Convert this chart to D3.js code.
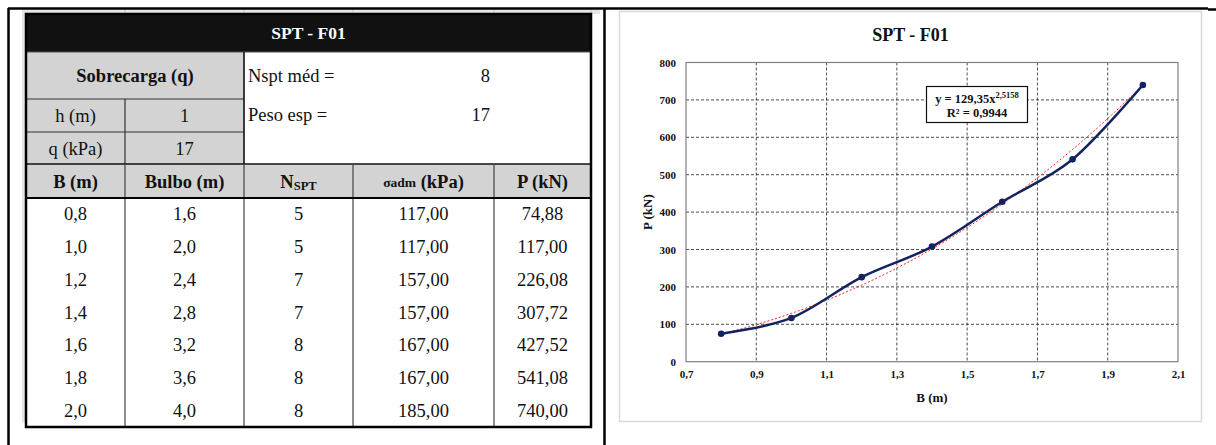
<!DOCTYPE html>
<html>
<head>
<meta charset="utf-8">
<script src="https://cdn.jsdelivr.net/npm/d3@7"></script>
<style>
  body { margin: 0; background: #fff; }
  svg { display: block; font-family: "Liberation Serif", "Times New Roman", serif; }
</style>
</head>
<body>
<script>
// table / chart values
var B = [0.8, 1.0, 1.2, 1.4, 1.6, 1.8, 2.0];
var bulbo = [1.6, 2.0, 2.4, 2.8, 3.2, 3.6, 4.0];
var nspt = [5, 5, 7, 7, 8, 8, 8];
var sigmaAdm = [117, 117, 157, 157, 167, 167, 185];
var P = [74.88, 117, 226.08, 307.72, 427.52, 541.08, 740];
var xTicks = [0.7, 0.9, 1.1, 1.3, 1.5, 1.7, 1.9, 2.1];
var yTicks = [0, 100, 200, 300, 400, 500, 600, 700, 800];
var title = "SPT - F01";
var hVal = 1, qVal = 17, nsptMed = 8, pesoEsp = 17;
var eqText = ["y = 129,35x", "2,5158"];
var r2Text = "R\u00b2 = 0,9944";

var br = d3.formatLocale({decimal: ",", thousands: ".", grouping: [3], currency: ["", ""]});
var f1 = br.format(".1f"), f2 = br.format(".2f");

var svg = d3.select("body").append("svg").attr("width", 1216).attr("height", 445);

// ---------- excel background bits ----------
var colX = [26, 125, 244, 353, 494, 591];
svg.append("rect").attr("x", 22).attr("y", 9).attr("width", 578).attr("height", 5).attr("fill", "#e6e6e6");
svg.append("rect").attr("x", 22).attr("y", 9).attr("width", 4).attr("height", 413).attr("fill", "#e6e6e6");
svg.selectAll(".xlcol").data(colX.slice(1)).enter().append("line")
  .attr("x1", d => d).attr("x2", d => d).attr("y1", 9).attr("y2", 14)
  .attr("stroke", "#c4c4c4");

// ---------- table ----------
var rowH = (427 - 198) / B.length;
var gray = "#d3d3d3";
var t = svg.append("g");

t.append("rect").attr("x", 26).attr("y", 14).attr("width", 565).attr("height", 38).attr("fill", "#111");
t.append("rect").attr("x", 26).attr("y", 52).attr("width", 218).attr("height", 112).attr("fill", gray);
t.append("rect").attr("x", 26).attr("y", 164).attr("width", 565).attr("height", 34).attr("fill", gray);

function ln(x1, y1, x2, y2, c, w) {
  t.append("line").attr("x1", x1).attr("y1", y1).attr("x2", x2).attr("y2", y2)
    .attr("stroke", c).attr("stroke-width", w);
}
ln(26, 52, 591, 52, "#555", 1);
ln(26, 99, 244, 99, "#333", 1.2);
ln(26, 132, 244, 132, "#333", 1.2);
ln(125, 99, 125, 164, "#333", 1.2);
ln(244, 52, 244, 164, "#111", 1.6);
ln(26, 164, 591, 164, "#111", 1.6);
colX.slice(1, 5).forEach(function(x) { ln(x, 164, x, 427, "#444", 1.2); });
ln(26, 198, 591, 198, "#000", 2.2);
t.append("rect").attr("x", 26).attr("y", 14).attr("width", 565).attr("height", 413)
  .attr("fill", "none").attr("stroke", "#000").attr("stroke-width", 2.5);

function txt(x, y, s, opt) {
  opt = opt || {};
  return t.append("text").attr("x", x).attr("y", y).text(s)
    .attr("text-anchor", opt.anchor || "middle")
    .attr("dominant-baseline", "central")
    .attr("font-size", opt.size || 18.5)
    .attr("font-weight", opt.bold ? "bold" : "normal")
    .attr("fill", opt.fill || "#111");
}
txt(308.5, 33, title, {bold: true, size: 17.5, fill: "#fff"});
txt(135, 76, "Sobrecarga (q)", {bold: true, size: 18.5});
txt(75.5, 116, "h (m)");
txt(184.5, 116, hVal);
txt(75.5, 149, "q (kPa)");
txt(184.5, 149, qVal);
txt(248, 76, "Nspt m\u00e9d =", {anchor: "start"});
txt(490, 76, nsptMed, {anchor: "end"});
txt(248, 115, "Peso esp =", {anchor: "start"});
txt(490, 115, pesoEsp, {anchor: "end"});

var hy = 182;
txt(75.5, hy, "B (m)", {bold: true});
txt(184.5, hy, "Bulbo (m)", {bold: true});
var nh = txt(298.5, hy, "N", {bold: true});
nh.append("tspan").attr("font-size", 12.5).attr("dy", 4).text("SPT");
var sh = txt(423.5, hy, "", {bold: true});
sh.append("tspan").attr("font-size", 13.5).text("\u03c3adm");
sh.append("tspan").text(" (kPa)");
txt(542.5, hy, "P (kN)", {bold: true});

var cols = [B.map(f1), bulbo.map(f1), nspt.map(String), sigmaAdm.map(f2), P.map(f2)];
cols.forEach(function(vals, c) {
  var cx = (colX[c] + colX[c + 1]) / 2;
  vals.forEach(function(v, i) {
    txt(cx, 198 + rowH * (i + 0.5), v);
  });
});

// ---------- frame ----------
svg.append("line").attr("x1", 8).attr("y1", 8.5).attr("x2", 1208).attr("y2", 8.5).attr("stroke", "#000").attr("stroke-width", 2.5);
svg.append("line").attr("x1", 1208).attr("y1", 9.5).attr("x2", 1216).attr("y2", 9.5).attr("stroke", "#000").attr("stroke-width", 2.5);
svg.append("line").attr("x1", 8.5).attr("y1", 8).attr("x2", 8.5).attr("y2", 445).attr("stroke", "#000").attr("stroke-width", 2.5);
svg.append("line").attr("x1", 604.5).attr("y1", 8).attr("x2", 604.5).attr("y2", 445).attr("stroke", "#000").attr("stroke-width", 2.5);

// ---------- chart ----------
svg.append("rect").attr("x", 619.5).attr("y", 11.5).attr("width", 582).attr("height", 410)
  .attr("fill", "#fff").attr("stroke", "#d9d9d9").attr("stroke-width", 1.5);

var x = d3.scaleLinear().domain([0.7, 2.1]).range([686, 1178]);
var y = d3.scaleLinear().domain([0, 800]).range([361.7, 62.5]);
var g = svg.append("g");

g.selectAll(".gx").data(xTicks.slice(1, -1)).enter().append("line")
  .attr("x1", d => x(d)).attr("x2", d => x(d)).attr("y1", y(800)).attr("y2", y(0))
  .attr("stroke", "#222").attr("stroke-width", 0.8).attr("stroke-dasharray", "3,2");
g.selectAll(".gy").data(yTicks.slice(1, -1)).enter().append("line")
  .attr("x1", x(0.7)).attr("x2", x(2.1)).attr("y1", d => y(d)).attr("y2", d => y(d))
  .attr("stroke", "#222").attr("stroke-width", 0.8).attr("stroke-dasharray", "3,2");
g.append("rect").attr("x", x(0.7)).attr("y", y(800)).attr("width", x(2.1) - x(0.7)).attr("height", y(0) - y(800))
  .attr("fill", "none").attr("stroke", "#808080").attr("stroke-width", 1.2);

var xAxis = g.append("g").attr("transform", "translate(0," + y(0) + ")")
  .call(d3.axisBottom(x).tickValues(xTicks).tickSize(0).tickPadding(9).tickFormat(f1));
var yAxis = g.append("g").attr("transform", "translate(" + x(0.7) + ",0)")
  .call(d3.axisLeft(y).tickValues(yTicks).tickSize(0).tickPadding(10).tickFormat(d3.format("d")));
[xAxis, yAxis].forEach(function(a) {
  a.select(".domain").remove();
  a.selectAll("text").attr("font-family", "Liberation Serif").attr("font-size", 11)
    .attr("font-weight", "bold").attr("fill", "#111");
});

g.append("text").attr("x", 910.5).attr("y", 35).attr("text-anchor", "middle").attr("dominant-baseline", "central")
  .attr("font-size", 18).attr("font-weight", "bold").attr("fill", "#111").text(title);
g.append("text").attr("x", 932).attr("y", 397).attr("text-anchor", "middle").attr("dominant-baseline", "central")
  .attr("font-size", 13).attr("font-weight", "bold").attr("fill", "#111").text("B (m)");
g.append("text").attr("transform", "translate(647," + (y(400)) + ") rotate(-90)").attr("text-anchor", "middle")
  .attr("dominant-baseline", "central").attr("font-size", 13).attr("font-weight", "bold").attr("fill", "#111").text("P (kN)");

// power trendline fitted to the data (least squares on logs)
var lx = B.map(Math.log), ly = P.map(Math.log);
var mx = d3.mean(lx), my = d3.mean(ly);
var bExp = d3.sum(lx, (v, i) => (v - mx) * (ly[i] - my)) / d3.sum(lx, v => (v - mx) * (v - mx));
var aCoef = Math.exp(my - bExp * mx);
var trendX = d3.range(B[0], B[B.length - 1] + 1e-9, 0.01);
g.append("path").datum(trendX)
  .attr("d", d3.line().x(d => x(d)).y(d => y(aCoef * Math.pow(d, bExp))))
  .attr("fill", "none").attr("stroke", "#ff2020").attr("stroke-width", 1).attr("stroke-dasharray", "2,2");

var pts = B.map((b, i) => [b, P[i]]);
g.append("path").datum(pts)
  .attr("d", d3.line().x(d => x(d[0])).y(d => y(d[1])).curve(d3.curveCardinal.tension(0)))
  .attr("fill", "none").attr("stroke", "#13235f").attr("stroke-width", 2.5);
g.selectAll(".pt").data(pts).enter().append("circle")
  .attr("cx", d => x(d[0])).attr("cy", d => y(d[1])).attr("r", 3.3).attr("fill", "#13235f");

// equation box
g.append("rect").attr("x", 926.5).attr("y", 86.5).attr("width", 101).attr("height", 36)
  .attr("fill", "#fff").attr("stroke", "#111").attr("stroke-width", 1.2);
var eq = g.append("text").attr("x", 977).attr("y", 99).attr("text-anchor", "middle").attr("dominant-baseline", "central")
  .attr("font-size", 12.5).attr("font-weight", "bold").attr("fill", "#111");
eq.append("tspan").text(eqText[0]);
eq.append("tspan").attr("font-size", 8.5).attr("dy", -4).text(eqText[1]);
g.append("text").attr("x", 977).attr("y", 113).attr("text-anchor", "middle").attr("dominant-baseline", "central")
  .attr("font-size", 12.5).attr("font-weight", "bold").attr("fill", "#111").text(r2Text);
</script>
</body>
</html>
